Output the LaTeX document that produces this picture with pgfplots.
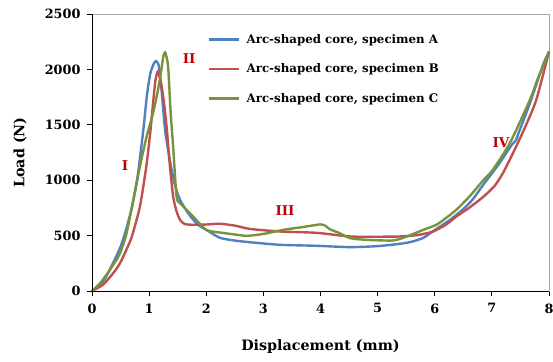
\documentclass[border=0pt]{standalone}
\usepackage{pgfplots}
\pgfplotsset{compat=1.18}
\usepackage{fontspec}
\setmainfont{DejaVu Serif}
\definecolor{cA}{HTML}{4F81BD}
\definecolor{cB}{HTML}{C0504D}
\definecolor{cC}{HTML}{77933C}
\definecolor{ann}{HTML}{C00000}
\begin{document}
\begin{tikzpicture}
\useasboundingbox (-92pt,-70pt) rectangle (461pt,291pt);
\begin{axis}[
  at={(0,0)}, anchor=south west,
  width=457pt, height=277pt, scale only axis,
  xmin=0, xmax=8, ymin=0, ymax=2500,
  xtick={0,1,...,8}, ytick={0,500,...,2500},
  axis line style={draw=gray!70, line width=0.6pt},
  tick style={black, line width=0.8pt},
  tick align=outside, major tick length=5pt,
  xtick pos=bottom, ytick pos=left,
  /pgf/number format/assume math mode=true,
  /pgf/number format/1000 sep={},
  tick label style={font=\bfseries\fontsize{12.8}{12.8}\selectfont},
  xticklabel style={yshift=-4pt},
  yticklabel style={xshift=-3pt},
  every axis x label/.style={at={(axis description cs:0.5,-0.2022)}, anchor=center},
  every axis y label/.style={at={(axis description cs:-0.1575,0.5)}, rotate=90, anchor=center},
  xlabel={Displacement (mm)}, ylabel={Load (N)},
  label style={font=\bfseries\fontsize{14.3}{14.3}\selectfont},
  legend style={draw=none, fill=none, at={(0.254,0.935)}, anchor=north west,
    font=\bfseries\fontsize{11.8}{11.8}\selectfont, row sep=15pt, inner sep=0pt},
  legend cell align=left,
  legend image code/.code={\draw[#1] (0pt,0pt) -- (30pt,0pt);},
  every axis plot/.append style={line width=2.4pt, smooth, tension=0.4},
  clip=false,
]
\addplot[cA] coordinates {
(0,0) (0.2,90) (0.37,254) (0.5,400) (0.6,560) (0.7,760) (0.8,1040) (0.9,1460) (0.96,1760) (1.02,1960) (1.08,2050) (1.12,2075) (1.17,2030) (1.22,1800) (1.28,1450) (1.37,1160) (1.45,960) (1.54,824) (1.7,690) (1.85,600) (2.0,552) (2.24,480) (2.5,455) (2.77,440) (3.29,417) (3.93,408) (4.52,396) (5.0,405) (5.39,426) (5.6,445) (5.8,480) (6.0,550) (6.27,643) (6.5,740) (6.67,830) (6.85,960) (7.1,1130) (7.35,1320) (7.42,1360) (7.47,1430) (7.67,1700) (7.9,2047) (8.0,2160)
};
\addlegendentry{\hspace{4pt}Arc-shaped core, specimen A}
\addplot[cB] coordinates {
(0,0) (0.2,60) (0.4,180) (0.5,260) (0.6,370) (0.69,480) (0.78,640) (0.84,764) (0.9,950) (0.96,1160) (1.02,1430) (1.07,1700) (1.11,1900) (1.15,1978) (1.2,1900) (1.26,1700) (1.31,1458) (1.36,1150) (1.42,854) (1.48,720) (1.54,643) (1.62,605) (1.75,598) (2.0,600) (2.24,607) (2.5,590) (2.77,560) (3.29,537) (3.93,525) (4.52,492) (5.0,490) (5.39,492) (5.7,505) (5.97,537) (6.2,600) (6.38,673) (6.6,750) (6.85,850) (7.05,950) (7.2,1070) (7.4,1277) (7.6,1500) (7.78,1730) (8.0,2160)
};
\addlegendentry{\hspace{4pt}Arc-shaped core, specimen B}
\addplot[cC] coordinates {
(0,0) (0.14,69) (0.3,180) (0.45,300) (0.52,380) (0.6,510) (0.7,760) (0.84,1126) (0.95,1380) (1.07,1610) (1.15,1800) (1.2,1950) (1.25,2120) (1.28,2153) (1.31,2100) (1.336,2002) (1.377,1610) (1.42,1307) (1.48,854) (1.54,794) (1.77,673) (2.0,552) (2.24,528) (2.5,510) (2.71,498) (3.0,515) (3.35,552) (3.7,578) (3.99,601) (4.08,590) (4.17,555) (4.3,530) (4.52,477) (4.8,462) (5.27,456) (5.5,490) (5.8,552) (6.03,598) (6.2,660) (6.38,734) (6.62,860) (6.85,1000) (7.02,1096) (7.32,1340) (7.67,1730) (7.8,1911) (8.0,2155)
};
\addlegendentry{\hspace{4pt}Arc-shaped core, specimen C}
\node[text=ann, font=\bfseries\fontsize{13.5}{13.5}\selectfont] at (axis cs:0.58,1132) {I};
\node[text=ann, font=\bfseries\fontsize{13.5}{13.5}\selectfont] at (axis cs:1.70,2101) {II};
\node[text=ann, font=\bfseries\fontsize{13.5}{13.5}\selectfont] at (axis cs:3.38,725) {III};
\node[text=ann, font=\bfseries\fontsize{13.5}{13.5}\selectfont] at (axis cs:7.16,1340) {IV};
\draw[black, line width=1pt] (rel axis cs:0,1) -- (rel axis cs:0,0) -- (rel axis cs:1,0);
\end{axis}
\end{tikzpicture}
\end{document}
